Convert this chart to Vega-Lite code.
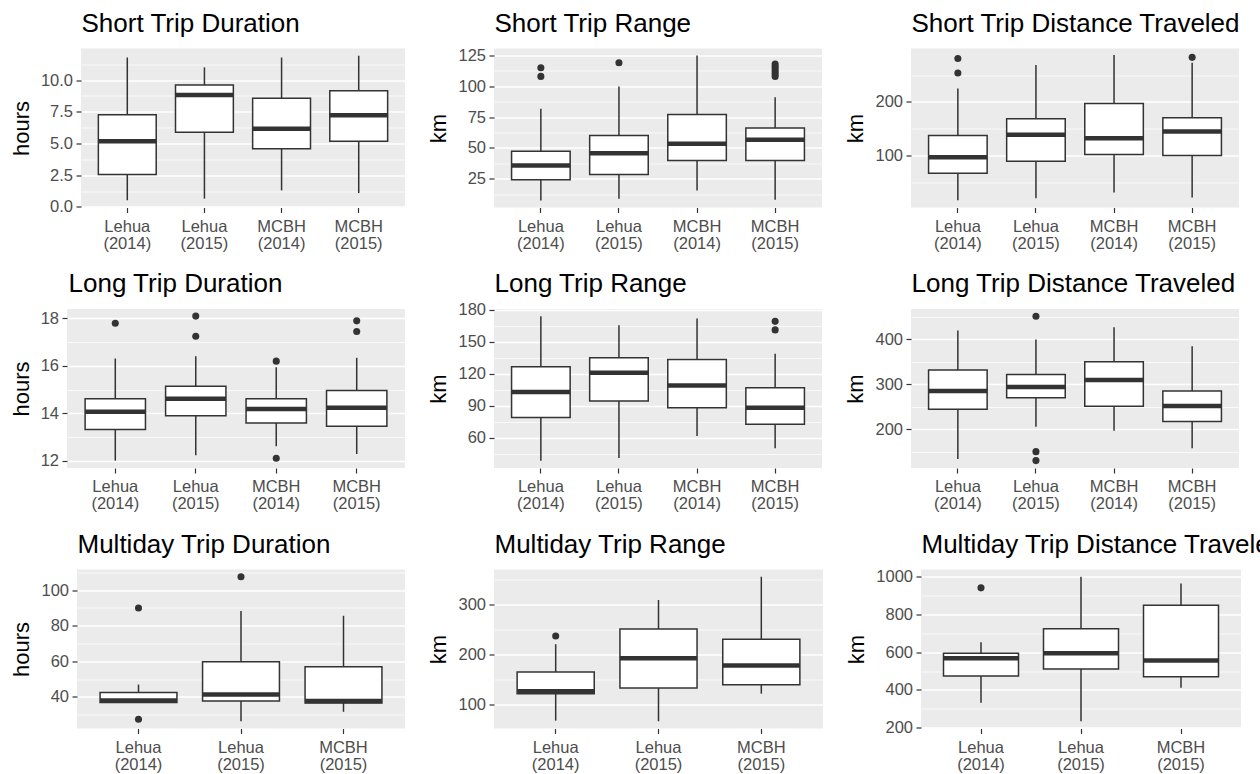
{
  "$schema": "https://vega.github.io/schema/vega-lite/v6.json",
  "background": "white",
  "padding": {"left": 9, "top": 9.5, "right": 5, "bottom": 5},
  "config": {
    "view": {"fill": "#EBEBEB", "stroke": null},
    "font": "Liberation Sans",
    "axis": {"domain": false, "labelFont": "Liberation Sans", "labelFontSize": 16.5, "labelColor": "#4D4D4D", "titleFont": "Liberation Sans", "titleFontSize": 22, "titleFontWeight": "normal", "titleColor": "black", "tickColor": "#333333", "tickSize": 5, "tickWidth": 1.2, "gridColor": "white", "gridWidth": 1.5, "gridOpacity": 1, "labelOverlap": false},
    "axisX": {"labelAngle": 0, "bandPosition": 0.5, "labelLineHeight": 17, "labelBaseline": "top", "labelPadding": 5.5},
    "axisY": {"titlePadding": 7, "labelPadding": 3.5, "tickCount": 50},
    "tick": {"thickness": 4.5}
  },
  "datasets": {
    "stats": [
      {"panel": "P1", "group": "Lehua (2014)", "lo": 0.53, "q1": 2.57, "med": 5.19, "q3": 7.26, "hi": 11.78},
      {"panel": "P1", "group": "Lehua (2015)", "lo": 0.66, "q1": 5.89, "med": 8.83, "q3": 9.61, "hi": 11.0},
      {"panel": "P1", "group": "MCBH (2014)", "lo": 1.31, "q1": 4.59, "med": 6.16, "q3": 8.56, "hi": 11.78},
      {"panel": "P1", "group": "MCBH (2015)", "lo": 1.1, "q1": 5.19, "med": 7.23, "q3": 9.17, "hi": 11.92},
      {"panel": "P2", "group": "Lehua (2014)", "lo": 7.4, "q1": 24.2, "med": 35.8, "q3": 47.4, "hi": 81.8},
      {"panel": "P2", "group": "Lehua (2015)", "lo": 8.8, "q1": 28.5, "med": 45.8, "q3": 60.1, "hi": 99.9},
      {"panel": "P2", "group": "MCBH (2014)", "lo": 15.5, "q1": 39.9, "med": 53.4, "q3": 77.2, "hi": 125},
      {"panel": "P2", "group": "MCBH (2015)", "lo": 8.0, "q1": 39.9, "med": 56.6, "q3": 66.1, "hi": 91.2},
      {"panel": "P3", "group": "Lehua (2014)", "lo": 16.9, "q1": 66.9, "med": 96.9, "q3": 137.5, "hi": 225},
      {"panel": "P3", "group": "Lehua (2015)", "lo": 20.6, "q1": 89.4, "med": 138.8, "q3": 168.8, "hi": 268.8},
      {"panel": "P3", "group": "MCBH (2014)", "lo": 31.3, "q1": 101.9, "med": 132.5, "q3": 196.9, "hi": 287.5},
      {"panel": "P3", "group": "MCBH (2015)", "lo": 21.9, "q1": 100, "med": 145, "q3": 170.6, "hi": 273.1},
      {"panel": "P4", "group": "Lehua (2014)", "lo": 12.0, "q1": 13.31, "med": 14.06, "q3": 14.61, "hi": 16.31},
      {"panel": "P4", "group": "Lehua (2015)", "lo": 12.23, "q1": 13.9, "med": 14.61, "q3": 15.14, "hi": 16.41},
      {"panel": "P4", "group": "MCBH (2014)", "lo": 12.61, "q1": 13.59, "med": 14.18, "q3": 14.61, "hi": 15.94},
      {"panel": "P4", "group": "MCBH (2015)", "lo": 12.28, "q1": 13.45, "med": 14.23, "q3": 14.96, "hi": 16.34},
      {"panel": "P5", "group": "Lehua (2014)", "lo": 38.2, "q1": 78.7, "med": 102.7, "q3": 126.4, "hi": 173.8},
      {"panel": "P5", "group": "Lehua (2015)", "lo": 40.7, "q1": 94.3, "med": 120.8, "q3": 134.8, "hi": 165.3},
      {"panel": "P5", "group": "MCBH (2014)", "lo": 61.5, "q1": 88.0, "med": 108.9, "q3": 133.2, "hi": 171.6},
      {"panel": "P5", "group": "MCBH (2015)", "lo": 50.0, "q1": 72.5, "med": 88.0, "q3": 106.7, "hi": 138.5},
      {"panel": "P6", "group": "Lehua (2014)", "lo": 133.3, "q1": 244.4, "med": 285.2, "q3": 331.9, "hi": 420},
      {"panel": "P6", "group": "Lehua (2015)", "lo": 205.2, "q1": 270.4, "med": 294.1, "q3": 322.2, "hi": 400},
      {"panel": "P6", "group": "MCBH (2014)", "lo": 196.3, "q1": 251.1, "med": 309.6, "q3": 350.4, "hi": 427.4},
      {"panel": "P6", "group": "MCBH (2015)", "lo": 157.8, "q1": 217.0, "med": 251.9, "q3": 285.2, "hi": 385.2},
      {"panel": "P7", "group": "Lehua (2014)", "lo": 36.8, "q1": 36.8, "med": 37.9, "q3": 42.4, "hi": 46.9},
      {"panel": "P7", "group": "Lehua (2015)", "lo": 26.3, "q1": 37.6, "med": 41.3, "q3": 59.7, "hi": 88.2},
      {"panel": "P7", "group": "MCBH (2015)", "lo": 31.6, "q1": 36.6, "med": 37.7, "q3": 56.9, "hi": 85.6},
      {"panel": "P8", "group": "Lehua (2014)", "lo": 68.2, "q1": 121.9, "med": 126.5, "q3": 164.9, "hi": 220.5},
      {"panel": "P8", "group": "Lehua (2015)", "lo": 66.9, "q1": 133.1, "med": 192.7, "q3": 251.0, "hi": 308.6},
      {"panel": "P8", "group": "MCBH (2015)", "lo": 121.9, "q1": 139.7, "med": 178.1, "q3": 230.5, "hi": 355},
      {"panel": "P9", "group": "Lehua (2014)", "lo": 331.6, "q1": 473.8, "med": 568, "q3": 594.7, "hi": 653},
      {"panel": "P9", "group": "Lehua (2015)", "lo": 233.8, "q1": 511.1, "med": 594.7, "q3": 724.4, "hi": 1000},
      {"panel": "P9", "group": "MCBH (2015)", "lo": 411.6, "q1": 470.2, "med": 555.6, "q3": 848.9, "hi": 964.4}
    ],
    "outliers": [
      {"panel": "P2", "group": "Lehua (2014)", "value": 115},
      {"panel": "P2", "group": "Lehua (2014)", "value": 108},
      {"panel": "P2", "group": "Lehua (2015)", "value": 119},
      {"panel": "P2", "group": "MCBH (2015)", "value": 118},
      {"panel": "P2", "group": "MCBH (2015)", "value": 116},
      {"panel": "P2", "group": "MCBH (2015)", "value": 114},
      {"panel": "P2", "group": "MCBH (2015)", "value": 112},
      {"panel": "P2", "group": "MCBH (2015)", "value": 110},
      {"panel": "P2", "group": "MCBH (2015)", "value": 108},
      {"panel": "P3", "group": "Lehua (2014)", "value": 281},
      {"panel": "P3", "group": "Lehua (2014)", "value": 254},
      {"panel": "P3", "group": "MCBH (2015)", "value": 283},
      {"panel": "P4", "group": "Lehua (2014)", "value": 17.8},
      {"panel": "P4", "group": "Lehua (2015)", "value": 18.1},
      {"panel": "P4", "group": "Lehua (2015)", "value": 17.25},
      {"panel": "P4", "group": "MCBH (2014)", "value": 16.2},
      {"panel": "P4", "group": "MCBH (2014)", "value": 12.1},
      {"panel": "P4", "group": "MCBH (2015)", "value": 17.9},
      {"panel": "P4", "group": "MCBH (2015)", "value": 17.45},
      {"panel": "P5", "group": "MCBH (2015)", "value": 169},
      {"panel": "P5", "group": "MCBH (2015)", "value": 161},
      {"panel": "P6", "group": "Lehua (2015)", "value": 452},
      {"panel": "P6", "group": "Lehua (2015)", "value": 150},
      {"panel": "P6", "group": "Lehua (2015)", "value": 130},
      {"panel": "P7", "group": "Lehua (2014)", "value": 90},
      {"panel": "P7", "group": "Lehua (2014)", "value": 27.4},
      {"panel": "P7", "group": "Lehua (2015)", "value": 107.5},
      {"panel": "P8", "group": "Lehua (2014)", "value": 237},
      {"panel": "P9", "group": "Lehua (2014)", "value": 941}
    ],
    "empty": []
  },
  "columns": 1,
  "spacing": 18.5,
  "concat": [
    {"spacing": 0, "hconcat": [
      {"width": 1, "height": 159, "data": {"name": "empty"}, "mark": {"type": "point", "opacity": 0}, "view": {"fill": "white", "stroke": null}},
      {"spacing": 22, "hconcat": [
      {"width": 324, "height": 159,
       "data": {"name": "stats"}, "transform": [{"filter": "datum.panel === 'P1'"}],
       "resolve": {"axis": {"x": "independent"}},
       "layer": [
        {"mark": {"type": "rule", "color": "#333333", "strokeWidth": 1.5},
         "encoding": {
          "x": {"field": "group", "type": "nominal", "title": null, "scale": {"paddingInner": 0.25, "paddingOuter": 0.225}, "axis": {"orient": "bottom", "labelExpr": "split(datum.label, ' ')"}},
          "y": {"field": "lo", "type": "quantitative", "title": "hours", "scale": {"domain": [-0.04, 12.49], "nice": false, "zero": false},
                "axis": {"tickCount": 50, "labelOverlap": false, "values": [0, 1.25, 2.5, 3.75, 5, 6.25, 7.5, 8.75, 10, 11.25], "labelExpr": "datum.value % 2.5 === 0 ? format(datum.value, '.1f') : ''",
                         "gridWidth": {"condition": {"test": "datum.value % 2.5 !== 0", "value": 0.75}, "value": 1.5},
                         "tickOpacity": {"condition": {"test": "datum.value % 2.5 !== 0", "value": 0}, "value": 1}}},
          "y2": {"field": "hi"}}},
        {"mark": {"type": "bar", "fill": "white", "stroke": "#333333", "strokeWidth": 1.5},
         "encoding": {"x": {"field": "group", "type": "nominal", "axis": null}, "y": {"field": "q1", "type": "quantitative", "title": "hours"}, "y2": {"field": "q3"}}},
        {"mark": {"type": "tick", "color": "#333333", "opacity": 1},
         "encoding": {"x": {"field": "group", "type": "nominal", "axis": null}, "y": {"field": "med", "type": "quantitative", "title": "hours"}}},
        {"data": {"name": "outliers"}, "transform": [{"filter": "datum.panel === 'P1'"}],
         "mark": {"type": "circle", "color": "#333333", "opacity": 1, "size": 50},
         "encoding": {"x": {"field": "group", "type": "nominal", "axis": {"orient": "top", "title": "Short Trip Duration", "labels": false, "ticks": false, "domain": false, "grid": false, "titleAnchor": "start", "titleAlign": "left", "titleX": 0, "titleY": -17.5, "titleBaseline": "alphabetic", "titleFontSize": 26, "titleLimit": 1000}},
                      "y": {"field": "value", "type": "quantitative", "title": "hours"}}}
       ]},
      {"width": 328, "height": 159,
       "data": {"name": "stats"}, "transform": [{"filter": "datum.panel === 'P2'"}],
       "resolve": {"axis": {"x": "independent"}},
       "layer": [
        {"mark": {"type": "rule", "color": "#333333", "strokeWidth": 1.5},
         "encoding": {
          "x": {"field": "group", "type": "nominal", "title": null, "scale": {"paddingInner": 0.25, "paddingOuter": 0.225}, "axis": {"orient": "bottom", "labelExpr": "split(datum.label, ' ')"}},
          "y": {"field": "lo", "type": "quantitative", "title": "km", "scale": {"domain": [1.8, 130.6], "nice": false, "zero": false},
                "axis": {"tickCount": 50, "labelOverlap": false, "values": [12.5, 25, 37.5, 50, 62.5, 75, 87.5, 100, 112.5, 125], "labelExpr": "datum.value % 25 === 0 ? format(datum.value, 'd') : ''",
                         "gridWidth": {"condition": {"test": "datum.value % 25 !== 0", "value": 0.75}, "value": 1.5},
                         "tickOpacity": {"condition": {"test": "datum.value % 25 !== 0", "value": 0}, "value": 1}}},
          "y2": {"field": "hi"}}},
        {"mark": {"type": "bar", "fill": "white", "stroke": "#333333", "strokeWidth": 1.5},
         "encoding": {"x": {"field": "group", "type": "nominal", "axis": null}, "y": {"field": "q1", "type": "quantitative", "title": "km"}, "y2": {"field": "q3"}}},
        {"mark": {"type": "tick", "color": "#333333", "opacity": 1},
         "encoding": {"x": {"field": "group", "type": "nominal", "axis": null}, "y": {"field": "med", "type": "quantitative", "title": "km"}}},
        {"data": {"name": "outliers"}, "transform": [{"filter": "datum.panel === 'P2'"}],
         "mark": {"type": "circle", "color": "#333333", "opacity": 1, "size": 50},
         "encoding": {"x": {"field": "group", "type": "nominal", "axis": {"orient": "top", "title": "Short Trip Range", "labels": false, "ticks": false, "domain": false, "grid": false, "titleAnchor": "start", "titleAlign": "left", "titleX": 0, "titleY": -17.5, "titleBaseline": "alphabetic", "titleFontSize": 26, "titleLimit": 1000}},
                      "y": {"field": "value", "type": "quantitative", "title": "km"}}}
       ]},
      {"width": 328, "height": 159,
       "data": {"name": "stats"}, "transform": [{"filter": "datum.panel === 'P3'"}],
       "resolve": {"axis": {"x": "independent"}},
       "layer": [
        {"mark": {"type": "rule", "color": "#333333", "strokeWidth": 1.5},
         "encoding": {
          "x": {"field": "group", "type": "nominal", "title": null, "scale": {"paddingInner": 0.25, "paddingOuter": 0.225}, "axis": {"orient": "bottom", "labelExpr": "split(datum.label, ' ')"}},
          "y": {"field": "lo", "type": "quantitative", "title": "km", "scale": {"domain": [3.3, 299.5], "nice": false, "zero": false},
                "axis": {"tickCount": 50, "labelOverlap": false, "values": [50, 100, 150, 200, 250], "labelExpr": "datum.value % 100 === 0 ? format(datum.value, 'd') : ''",
                         "gridWidth": {"condition": {"test": "datum.value % 100 !== 0", "value": 0.75}, "value": 1.5},
                         "tickOpacity": {"condition": {"test": "datum.value % 100 !== 0", "value": 0}, "value": 1}}},
          "y2": {"field": "hi"}}},
        {"mark": {"type": "bar", "fill": "white", "stroke": "#333333", "strokeWidth": 1.5},
         "encoding": {"x": {"field": "group", "type": "nominal", "axis": null}, "y": {"field": "q1", "type": "quantitative", "title": "km"}, "y2": {"field": "q3"}}},
        {"mark": {"type": "tick", "color": "#333333", "opacity": 1},
         "encoding": {"x": {"field": "group", "type": "nominal", "axis": null}, "y": {"field": "med", "type": "quantitative", "title": "km"}}},
        {"data": {"name": "outliers"}, "transform": [{"filter": "datum.panel === 'P3'"}],
         "mark": {"type": "circle", "color": "#333333", "opacity": 1, "size": 50},
         "encoding": {"x": {"field": "group", "type": "nominal", "axis": {"orient": "top", "title": "Short Trip Distance Traveled", "labels": false, "ticks": false, "domain": false, "grid": false, "titleAnchor": "start", "titleAlign": "left", "titleX": 0, "titleY": -17.5, "titleBaseline": "alphabetic", "titleFontSize": 26, "titleLimit": 1000}},
                      "y": {"field": "value", "type": "quantitative", "title": "km"}}}
       ]}
      ]}
    ]},
    {"spacing": 0, "hconcat": [
      {"width": 1, "height": 159, "data": {"name": "empty"}, "mark": {"type": "point", "opacity": 0}, "view": {"fill": "white", "stroke": null}},
      {"spacing": 22, "hconcat": [
      {"width": 338, "height": 159,
       "data": {"name": "stats"}, "transform": [{"filter": "datum.panel === 'P4'"}],
       "resolve": {"axis": {"x": "independent"}},
       "layer": [
        {"mark": {"type": "rule", "color": "#333333", "strokeWidth": 1.5},
         "encoding": {
          "x": {"field": "group", "type": "nominal", "title": null, "scale": {"paddingInner": 0.25, "paddingOuter": 0.225}, "axis": {"orient": "bottom", "labelExpr": "split(datum.label, ' ')"}},
          "y": {"field": "lo", "type": "quantitative", "title": "hours", "scale": {"domain": [11.69, 18.4], "nice": false, "zero": false},
                "axis": {"tickCount": 50, "labelOverlap": false, "values": [12, 13, 14, 15, 16, 17, 18], "labelExpr": "datum.value % 2 === 0 ? format(datum.value, 'd') : ''",
                         "gridWidth": {"condition": {"test": "datum.value % 2 !== 0", "value": 0.75}, "value": 1.5},
                         "tickOpacity": {"condition": {"test": "datum.value % 2 !== 0", "value": 0}, "value": 1}}},
          "y2": {"field": "hi"}}},
        {"mark": {"type": "bar", "fill": "white", "stroke": "#333333", "strokeWidth": 1.5},
         "encoding": {"x": {"field": "group", "type": "nominal", "axis": null}, "y": {"field": "q1", "type": "quantitative", "title": "hours"}, "y2": {"field": "q3"}}},
        {"mark": {"type": "tick", "color": "#333333", "opacity": 1},
         "encoding": {"x": {"field": "group", "type": "nominal", "axis": null}, "y": {"field": "med", "type": "quantitative", "title": "hours"}}},
        {"data": {"name": "outliers"}, "transform": [{"filter": "datum.panel === 'P4'"}],
         "mark": {"type": "circle", "color": "#333333", "opacity": 1, "size": 50},
         "encoding": {"x": {"field": "group", "type": "nominal", "axis": {"orient": "top", "title": "Long Trip Duration", "labels": false, "ticks": false, "domain": false, "grid": false, "titleAnchor": "start", "titleAlign": "left", "titleX": 1, "titleY": -17.5, "titleBaseline": "alphabetic", "titleFontSize": 26, "titleLimit": 1000}},
                      "y": {"field": "value", "type": "quantitative", "title": "hours"}}}
       ]},
      {"width": 328, "height": 159,
       "data": {"name": "stats"}, "transform": [{"filter": "datum.panel === 'P5'"}],
       "resolve": {"axis": {"x": "independent"}},
       "layer": [
        {"mark": {"type": "rule", "color": "#333333", "strokeWidth": 1.5},
         "encoding": {
          "x": {"field": "group", "type": "nominal", "title": null, "scale": {"paddingInner": 0.25, "paddingOuter": 0.225}, "axis": {"orient": "bottom", "labelExpr": "split(datum.label, ' ')"}},
          "y": {"field": "lo", "type": "quantitative", "title": "km", "scale": {"domain": [31.4, 180.6], "nice": false, "zero": false},
                "axis": {"tickCount": 50, "labelOverlap": false, "values": [45, 60, 75, 90, 105, 120, 135, 150, 165, 180], "labelExpr": "datum.value % 30 === 0 ? format(datum.value, 'd') : ''",
                         "gridWidth": {"condition": {"test": "datum.value % 30 !== 0", "value": 0.75}, "value": 1.5},
                         "tickOpacity": {"condition": {"test": "datum.value % 30 !== 0", "value": 0}, "value": 1}}},
          "y2": {"field": "hi"}}},
        {"mark": {"type": "bar", "fill": "white", "stroke": "#333333", "strokeWidth": 1.5},
         "encoding": {"x": {"field": "group", "type": "nominal", "axis": null}, "y": {"field": "q1", "type": "quantitative", "title": "km"}, "y2": {"field": "q3"}}},
        {"mark": {"type": "tick", "color": "#333333", "opacity": 1},
         "encoding": {"x": {"field": "group", "type": "nominal", "axis": null}, "y": {"field": "med", "type": "quantitative", "title": "km"}}},
        {"data": {"name": "outliers"}, "transform": [{"filter": "datum.panel === 'P5'"}],
         "mark": {"type": "circle", "color": "#333333", "opacity": 1, "size": 50},
         "encoding": {"x": {"field": "group", "type": "nominal", "axis": {"orient": "top", "title": "Long Trip Range", "labels": false, "ticks": false, "domain": false, "grid": false, "titleAnchor": "start", "titleAlign": "left", "titleX": 0, "titleY": -17.5, "titleBaseline": "alphabetic", "titleFontSize": 26, "titleLimit": 1000}},
                      "y": {"field": "value", "type": "quantitative", "title": "km"}}}
       ]},
      {"width": 328, "height": 159,
       "data": {"name": "stats"}, "transform": [{"filter": "datum.panel === 'P6'"}],
       "resolve": {"axis": {"x": "independent"}},
       "layer": [
        {"mark": {"type": "rule", "color": "#333333", "strokeWidth": 1.5},
         "encoding": {
          "x": {"field": "group", "type": "nominal", "title": null, "scale": {"paddingInner": 0.25, "paddingOuter": 0.225}, "axis": {"orient": "bottom", "labelExpr": "split(datum.label, ' ')"}},
          "y": {"field": "lo", "type": "quantitative", "title": "km", "scale": {"domain": [113.5, 468], "nice": false, "zero": false},
                "axis": {"tickCount": 50, "labelOverlap": false, "values": [150, 200, 250, 300, 350, 400, 450], "labelExpr": "datum.value % 100 === 0 ? format(datum.value, 'd') : ''",
                         "gridWidth": {"condition": {"test": "datum.value % 100 !== 0", "value": 0.75}, "value": 1.5},
                         "tickOpacity": {"condition": {"test": "datum.value % 100 !== 0", "value": 0}, "value": 1}}},
          "y2": {"field": "hi"}}},
        {"mark": {"type": "bar", "fill": "white", "stroke": "#333333", "strokeWidth": 1.5},
         "encoding": {"x": {"field": "group", "type": "nominal", "axis": null}, "y": {"field": "q1", "type": "quantitative", "title": "km"}, "y2": {"field": "q3"}}},
        {"mark": {"type": "tick", "color": "#333333", "opacity": 1},
         "encoding": {"x": {"field": "group", "type": "nominal", "axis": null}, "y": {"field": "med", "type": "quantitative", "title": "km"}}},
        {"data": {"name": "outliers"}, "transform": [{"filter": "datum.panel === 'P6'"}],
         "mark": {"type": "circle", "color": "#333333", "opacity": 1, "size": 50},
         "encoding": {"x": {"field": "group", "type": "nominal", "axis": {"orient": "top", "title": "Long Trip Distance Traveled", "labels": false, "ticks": false, "domain": false, "grid": false, "titleAnchor": "start", "titleAlign": "left", "titleX": 0, "titleY": -17.5, "titleBaseline": "alphabetic", "titleFontSize": 26, "titleLimit": 1000}},
                      "y": {"field": "value", "type": "quantitative", "title": "km"}}}
       ]}
      ]}
    ]},
    {"spacing": 0, "hconcat": [
      {"width": 1, "height": 159, "data": {"name": "empty"}, "mark": {"type": "point", "opacity": 0}, "view": {"fill": "white", "stroke": null}},
      {"spacing": 22, "hconcat": [
      {"width": 328, "height": 159,
       "data": {"name": "stats"}, "transform": [{"filter": "datum.panel === 'P7'"}],
       "resolve": {"axis": {"x": "independent"}},
       "layer": [
        {"mark": {"type": "rule", "color": "#333333", "strokeWidth": 1.5},
         "encoding": {
          "x": {"field": "group", "type": "nominal", "title": null, "scale": {"paddingInner": 0.25, "paddingOuter": 0.225}, "axis": {"orient": "bottom", "labelExpr": "split(datum.label, ' ')"}},
          "y": {"field": "lo", "type": "quantitative", "title": "hours", "scale": {"domain": [22.2, 111.6], "nice": false, "zero": false},
                "axis": {"tickCount": 50, "labelOverlap": false, "values": [30, 40, 50, 60, 70, 80, 90, 100, 110], "labelExpr": "datum.value % 20 === 0 ? format(datum.value, 'd') : ''",
                         "gridWidth": {"condition": {"test": "datum.value % 20 !== 0", "value": 0.75}, "value": 1.5},
                         "tickOpacity": {"condition": {"test": "datum.value % 20 !== 0", "value": 0}, "value": 1}}},
          "y2": {"field": "hi"}}},
        {"mark": {"type": "bar", "fill": "white", "stroke": "#333333", "strokeWidth": 1.5},
         "encoding": {"x": {"field": "group", "type": "nominal", "axis": null}, "y": {"field": "q1", "type": "quantitative", "title": "hours"}, "y2": {"field": "q3"}}},
        {"mark": {"type": "tick", "color": "#333333", "opacity": 1},
         "encoding": {"x": {"field": "group", "type": "nominal", "axis": null}, "y": {"field": "med", "type": "quantitative", "title": "hours"}}},
        {"data": {"name": "outliers"}, "transform": [{"filter": "datum.panel === 'P7'"}],
         "mark": {"type": "circle", "color": "#333333", "opacity": 1, "size": 50},
         "encoding": {"x": {"field": "group", "type": "nominal", "axis": {"orient": "top", "title": "Multiday Trip Duration", "labels": false, "ticks": false, "domain": false, "grid": false, "titleAnchor": "start", "titleAlign": "left", "titleX": 0, "titleY": -17.5, "titleBaseline": "alphabetic", "titleFontSize": 26, "titleLimit": 1000}},
                      "y": {"field": "value", "type": "quantitative", "title": "hours"}}}
       ]},
      {"width": 329, "height": 159,
       "data": {"name": "stats"}, "transform": [{"filter": "datum.panel === 'P8'"}],
       "resolve": {"axis": {"x": "independent"}},
       "layer": [
        {"mark": {"type": "rule", "color": "#333333", "strokeWidth": 1.5},
         "encoding": {
          "x": {"field": "group", "type": "nominal", "title": null, "scale": {"paddingInner": 0.25, "paddingOuter": 0.225}, "axis": {"orient": "bottom", "labelExpr": "split(datum.label, ' ')"}},
          "y": {"field": "lo", "type": "quantitative", "title": "km", "scale": {"domain": [52.5, 369.4], "nice": false, "zero": false},
                "axis": {"tickCount": 50, "labelOverlap": false, "values": [100, 150, 200, 250, 300, 350], "labelExpr": "datum.value % 100 === 0 ? format(datum.value, 'd') : ''",
                         "gridWidth": {"condition": {"test": "datum.value % 100 !== 0", "value": 0.75}, "value": 1.5},
                         "tickOpacity": {"condition": {"test": "datum.value % 100 !== 0", "value": 0}, "value": 1}}},
          "y2": {"field": "hi"}}},
        {"mark": {"type": "bar", "fill": "white", "stroke": "#333333", "strokeWidth": 1.5},
         "encoding": {"x": {"field": "group", "type": "nominal", "axis": null}, "y": {"field": "q1", "type": "quantitative", "title": "km"}, "y2": {"field": "q3"}}},
        {"mark": {"type": "tick", "color": "#333333", "opacity": 1},
         "encoding": {"x": {"field": "group", "type": "nominal", "axis": null}, "y": {"field": "med", "type": "quantitative", "title": "km"}}},
        {"data": {"name": "outliers"}, "transform": [{"filter": "datum.panel === 'P8'"}],
         "mark": {"type": "circle", "color": "#333333", "opacity": 1, "size": 50},
         "encoding": {"x": {"field": "group", "type": "nominal", "axis": {"orient": "top", "title": "Multiday Trip Range", "labels": false, "ticks": false, "domain": false, "grid": false, "titleAnchor": "start", "titleAlign": "left", "titleX": 0, "titleY": -17.5, "titleBaseline": "alphabetic", "titleFontSize": 26, "titleLimit": 1000}},
                      "y": {"field": "value", "type": "quantitative", "title": "km"}}}
       ]},
      {"width": 320, "height": 159,
       "data": {"name": "stats"}, "transform": [{"filter": "datum.panel === 'P9'"}],
       "resolve": {"axis": {"x": "independent"}},
       "layer": [
        {"mark": {"type": "rule", "color": "#333333", "strokeWidth": 1.5},
         "encoding": {
          "x": {"field": "group", "type": "nominal", "title": null, "scale": {"paddingInner": 0.25, "paddingOuter": 0.225}, "axis": {"orient": "bottom", "labelExpr": "split(datum.label, ' ')"}},
          "y": {"field": "lo", "type": "quantitative", "title": "km", "scale": {"domain": [195.5, 1038.3], "nice": false, "zero": false},
                "axis": {"tickCount": 50, "labelOverlap": false, "values": [200, 300, 400, 500, 600, 700, 800, 900, 1000], "labelExpr": "datum.value % 200 === 0 ? format(datum.value, 'd') : ''",
                         "gridWidth": {"condition": {"test": "datum.value % 200 !== 0", "value": 0.75}, "value": 1.5},
                         "tickOpacity": {"condition": {"test": "datum.value % 200 !== 0", "value": 0}, "value": 1}}},
          "y2": {"field": "hi"}}},
        {"mark": {"type": "bar", "fill": "white", "stroke": "#333333", "strokeWidth": 1.5},
         "encoding": {"x": {"field": "group", "type": "nominal", "axis": null}, "y": {"field": "q1", "type": "quantitative", "title": "km"}, "y2": {"field": "q3"}}},
        {"mark": {"type": "tick", "color": "#333333", "opacity": 1},
         "encoding": {"x": {"field": "group", "type": "nominal", "axis": null}, "y": {"field": "med", "type": "quantitative", "title": "km"}}},
        {"data": {"name": "outliers"}, "transform": [{"filter": "datum.panel === 'P9'"}],
         "mark": {"type": "circle", "color": "#333333", "opacity": 1, "size": 50},
         "encoding": {"x": {"field": "group", "type": "nominal", "axis": {"orient": "top", "title": "Multiday Trip Distance Traveled", "labels": false, "ticks": false, "domain": false, "grid": false, "titleAnchor": "start", "titleAlign": "left", "titleX": 0, "titleY": -17.5, "titleBaseline": "alphabetic", "titleFontSize": 26, "titleLimit": 1000}},
                      "y": {"field": "value", "type": "quantitative", "title": "km"}}}
       ]}
      ]}
    ]}
  ]
}
